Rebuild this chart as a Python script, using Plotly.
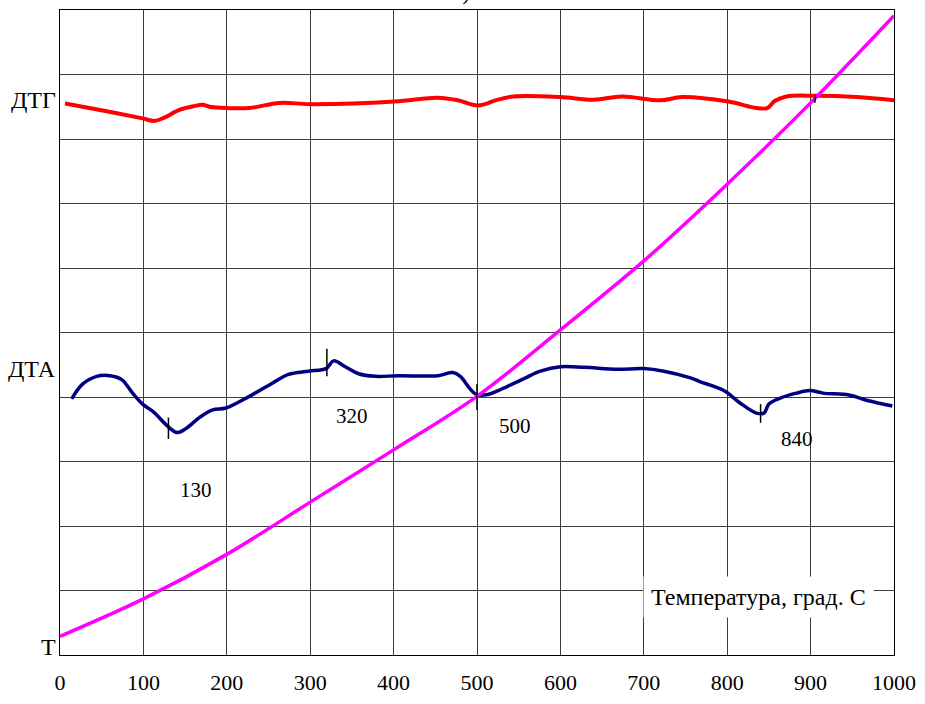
import plotly.graph_objects as go

# Temperature curve T (grid units)
t_x = [0, 100, 200, 300, 400, 500, 600, 700, 800, 900, 1000]
t_y = [0.29, 0.87, 1.56, 2.37, 3.18, 4.01, 5.04, 6.11, 7.30, 8.56, 9.91]

# DTG curve
dtg_x = [6, 48, 99, 113, 125, 143, 161, 171, 179, 200, 227, 263, 300, 401, 453,
         477, 501, 525, 544, 600, 640, 674, 720, 746, 801, 835, 848, 857, 871,
         905, 955, 1000]
dtg_y = [8.55, 8.45, 8.32, 8.28, 8.33, 8.45, 8.51, 8.53, 8.50, 8.48, 8.48, 8.56,
         8.54, 8.58, 8.64, 8.60, 8.52, 8.61, 8.66, 8.65, 8.61, 8.66, 8.60, 8.65,
         8.58, 8.48, 8.48, 8.59, 8.66, 8.67, 8.65, 8.60]

# DTA curve
dta_x = [14, 27, 44, 60, 74, 87, 99, 111, 140, 152, 167, 183, 199, 227, 254, 274,
         298, 319, 328, 342, 358, 378, 406, 453, 471, 480, 492, 499, 513, 529,
         557, 576, 600, 629, 668, 700, 724, 755, 767, 796, 815, 835, 844, 850,
         863, 883, 899, 915, 946, 967, 998]
dta_y = [3.97, 4.20, 4.32, 4.33, 4.27, 4.06, 3.89, 3.78, 3.45, 3.52, 3.68, 3.80,
         3.83, 4.01, 4.21, 4.35, 4.40, 4.44, 4.56, 4.47, 4.36, 4.32, 4.33, 4.33,
         4.38, 4.32, 4.12, 4.04, 4.04, 4.12, 4.29, 4.40, 4.47, 4.46, 4.43, 4.44,
         4.40, 4.30, 4.24, 4.10, 3.91, 3.75, 3.75, 3.89, 3.98, 4.06, 4.10, 4.06,
         4.03, 3.95, 3.86]

# Thermal effects marked on DTA
effect_temps = [130, 320, 500, 840]
effect_tick_lo = [3.35, 4.32, 3.80, 3.60]
effect_tick_hi = [3.68, 4.75, 4.20, 3.89]
effect_label_x = [163, 350, 545, 884]
effect_label_y = [2.56, 3.71, 3.55, 3.35]

x_ticks = [0, 100, 200, 300, 400, 500, 600, 700, 800, 900, 1000]

SERIF = "Liberation Serif, Times New Roman, serif"

fig = go.Figure()

fig.add_trace(go.Scatter(x=dtg_x, y=dtg_y, mode="lines", line_shape="spline",
                         line=dict(color="#ff0000", width=4), hoverinfo="skip"))
fig.add_trace(go.Scatter(x=dta_x, y=dta_y, mode="lines", line_shape="spline",
                         line=dict(color="#000080", width=3.5), hoverinfo="skip"))
fig.add_trace(go.Scatter(x=t_x, y=t_y, mode="lines", line_shape="spline",
                         line=dict(color="#ff00ff", width=3.5), hoverinfo="skip"))

# vertical tick marks at the thermal effects
for xt, lo, hi in zip(effect_temps, effect_tick_lo, effect_tick_hi):
    fig.add_trace(go.Scatter(x=[xt, xt], y=[lo, hi], mode="lines",
                             line=dict(color="black", width=1.5), hoverinfo="skip"))
# small mark on DTG where it meets T
fig.add_trace(go.Scatter(x=[906, 905], y=[8.68, 8.56], mode="lines",
                         line=dict(color="black", width=1.5), hoverinfo="skip"))

for lx, ly, txt in zip(effect_label_x, effect_label_y, effect_temps):
    fig.add_annotation(x=lx, y=ly, text=str(txt), showarrow=False,
                       font=dict(family=SERIF, size=21, color="black"))

# curve names on the left
for name, yv in [("ДТГ", 8.61), ("ДТА", 4.44), ("Т", 0.12)]:
    fig.add_annotation(xref="paper", x=0, y=yv, text=name, showarrow=False,
                       xanchor="right", xshift=-2,
                       font=dict(family=SERIF, size=24, color="black"))

# axis caption inside plot with white background
fig.add_annotation(x=838, y=0.90, text="Температура, град. С", showarrow=False,
                   bgcolor="white", borderpad=7,
                   font=dict(family=SERIF, size=24, color="black"))

# panel letter at the top edge
fig.add_annotation(x=480, yref="paper", y=1, yanchor="bottom", yshift=3,
                   text="б)", showarrow=False,
                   font=dict(family=SERIF, size=22, color="black"))

fig.update_layout(
    width=925, height=704,
    margin=dict(l=60, r=27, t=9, b=42),
    paper_bgcolor="white", plot_bgcolor="white",
    showlegend=False,
    xaxis=dict(range=[0, 1000], tickvals=x_ticks, ticktext=[str(v) for v in x_ticks],
               showgrid=True, gridcolor="#3c3c3c", gridwidth=1,
               showline=True, linecolor="black", linewidth=1, mirror=True,
               ticks="outside", ticklen=8, tickcolor="white",
               tickfont=dict(family=SERIF, size=22, color="black"),
               zeroline=False),
    yaxis=dict(range=[0, 10], dtick=1, showticklabels=False,
               showgrid=True, gridcolor="#3c3c3c", gridwidth=1,
               showline=True, linecolor="black", linewidth=1, mirror=True,
               zeroline=False),
)

fig.write_html("out.html")
